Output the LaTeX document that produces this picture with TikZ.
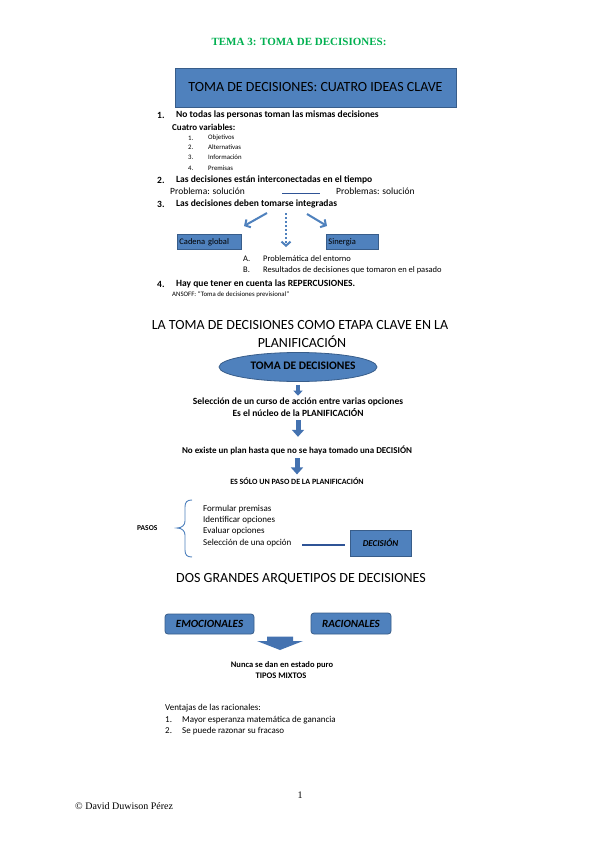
\documentclass[tikz,border=0pt]{standalone}
\usepackage{fontspec}
\setmainfont{Carlito}
\newfontfamily\timesf{Liberation Serif}
\usetikzlibrary{shapes.geometric,arrows.meta}
\definecolor{boxblue}{RGB}{79,129,189}
\definecolor{boxedge}{RGB}{56,93,138}
\definecolor{titlegreen}{RGB}{0,176,80}
\definecolor{arrowblue}{RGB}{68,114,176}
\definecolor{lineblue}{RGB}{47,84,150}
\begin{document}
\begin{tikzpicture}[x=1pt,y=-1pt,
  every node/.style={inner sep=0pt},
  bi/.style={anchor=west, font=\fontsize{9.5}{11}\selectfont\bfseries},
  reg/.style={anchor=west, font=\fontsize{9}{11}\selectfont},
  tinyt/.style={anchor=west, font=\fontsize{6.8}{8}\selectfont},
  head/.style={font=\fontsize{14}{16}\selectfont},
  cb/.style={font=\fontsize{9.5}{11}\selectfont\bfseries},
  bluebox/.style={draw=boxedge, fill=boxblue, line width=0.8pt},
  thinarr/.style={draw=boxblue, line width=2pt, -{Straight Barb[length=4pt,width=9pt]}},
  blkS/.style={draw=arrowblue, line width=3.5pt, -{Triangle[length=5pt,width=9pt]}},
  blkL/.style={draw=arrowblue, line width=5pt, -{Triangle[length=7pt,width=12pt]}},
  conn/.style={draw=lineblue, line width=1.3pt}
]
\fill[white] (0,0) rectangle (599,848);
\useasboundingbox (0,0) rectangle (599,848);

% ---- Title
\node[font=\timesf\fontsize{11}{13}\selectfont\bfseries, text=titlegreen] (title) at (299,42) {TEMA 3: TOMA DE DECISIONES:};
\node[bluebox, minimum width=281pt, minimum height=39pt, font=\fontsize{14}{16}\selectfont] (clave) at (315.5,87.5) {TOMA DE DECISIONES: CUATRO IDEAS CLAVE};

% ---- Four ideas
\node[bi] (n1) at (157,115) {1.};
\node[bi] (t1) at (176,115) {No todas las personas toman las mismas decisiones};
\node[bi, font=\fontsize{9}{11}\selectfont\bfseries] (cv) at (172,127) {Cuatro variables:};
\node[tinyt] (s1n) at (188,138) {1.};
\node[tinyt] (s1) at (208,138) {Objetivos};
\node[tinyt] (s2n) at (188,147) {2.};
\node[tinyt] (s2) at (208,147) {Alternativas};
\node[tinyt] (s3n) at (188,157) {3.};
\node[tinyt] (s3) at (208,157) {Información};
\node[tinyt] (s4n) at (188,168) {4.};
\node[tinyt] (s4) at (208,168) {Premisas};

\node[bi] (n2) at (157,180) {2.};
\node[bi] (t2) at (176,180) {Las decisiones están interconectadas en el tiempo};
\node[reg, font=\fontsize{9.5}{11}\selectfont] (p1) at (170,191) {Problema: solución};
\node[reg, font=\fontsize{9.5}{11}\selectfont] (p2) at (336,191) {Problemas: solución};
\coordinate (l1a) at (282,193.5);
\coordinate (l1b) at (320,193.5);
\draw[conn, line width=1.6pt] (l1a) -- (l1b);

\node[bi] (n3) at (157,204) {3.};
\node[bi] (t3) at (176,204) {Las decisiones deben tomarse integradas};
\coordinate (a3l0) at (267,213);
\coordinate (a3l1) at (244,226);
\coordinate (a3m0) at (286,213);
\coordinate (a3m1) at (286,247);
\coordinate (a3r0) at (307,214);
\coordinate (a3r1) at (327,226);
\draw[thinarr] (a3l0) -- (a3l1);
\draw[thinarr, dash pattern=on 2pt off 2pt] (a3m0) -- (a3m1);
\draw[thinarr] (a3r0) -- (a3r1);

\node[bluebox, anchor=north west, minimum height=15pt, text width=60pt, inner sep=2pt, align=left, font=\fontsize{8.5}{9}\selectfont] (cadena) at (177,234) {Cadena global};
\node[bluebox, anchor=north west, minimum height=15pt, text width=48pt, inner sep=2pt, align=left, font=\fontsize{8.5}{9}\selectfont] (sinergia) at (326,234) {Sinergia};

\node[reg, font=\fontsize{8.5}{10}\selectfont] (la) at (243,259) {A.};
\node[reg, font=\fontsize{8.5}{10}\selectfont] (ta) at (263,259) {Problemática del entorno};
\node[reg, font=\fontsize{8.5}{10}\selectfont] (lb) at (243,270) {B.};
\node[reg, font=\fontsize{8.5}{10}\selectfont] (tb) at (263,270) {Resultados de decisiones que tomaron en el pasado};

\node[bi] (n4) at (157,284) {4.};
\node[bi] (t4) at (176,284) {Hay que tener en cuenta las REPERCUSIONES.};
\node[tinyt] (ans) at (172,295) {ANSOFF: “Toma de decisiones previsional”};

% ---- Section 2
\node[head] (h2a) at (300,325) {LA TOMA DE DECISIONES COMO ETAPA CLAVE EN LA};
\node[head] (h2b) at (302,342) {PLANIFICACIÓN};
\node[ellipse, bluebox, minimum width=158pt, minimum height=29pt] (ell) at (298,367) {};
\node[cb, font=\fontsize{11.5}{13}\selectfont\bfseries] (ellt) at (303,366) {TOMA DE DECISIONES};

\node[cb] (sel1) at (298,402) {Selección de un curso de acción entre varias opciones};
\node[cb] (sel2) at (298,413) {Es el núcleo de la PLANIFICACIÓN};
\node[cb, font=\fontsize{9}{11}\selectfont\bfseries] (noex) at (297,450) {No existe un plan hasta que no se haya tomado una DECISIÓN};
\node[cb, font=\fontsize{8}{10}\selectfont\bfseries] (solo) at (297,481) {ES SÓLO UN PASO DE LA PLANIFICACIÓN};

\draw[blkS, shorten <=3pt, shorten >=2pt] (ell.south -| sel1.north) -- (sel1.north);
\draw[blkL, shorten <=3pt, shorten >=8.5pt] (sel2.south) -- (sel2.south |- noex.north);
\draw[blkL, shorten <=3.5pt, shorten >=3pt] (noex.south) -- (noex.south |- solo.north);

% ---- Pasos
\node[bi, font=\fontsize{7.5}{9}\selectfont\bfseries] (pasos) at (137,528) {PASOS};
\draw[draw=boxblue, line width=0.9pt] (192,500) .. controls (187,500) and (185,502) .. (185,507) -- (185,521) .. controls (185,525) and (182,528) .. (177,528) .. controls (182,528) and (185,531) .. (185,535) -- (185,550) .. controls (185,555) and (187,557) .. (192,557);
\node[reg] (f1) at (203,509) {Formular premisas};
\node[reg] (f2) at (203,520) {Identificar opciones};
\node[reg] (f3) at (203,531) {Evaluar opciones};
\node[reg] (f4) at (203,543) {Selección de una opción};
\node[bluebox, minimum width=61pt, minimum height=26pt, font=\fontsize{9}{11}\selectfont\bfseries\itshape] (dec) at (380.5,543) {DECISIÓN};
\coordinate (d0) at (302,545);
\draw[conn] (d0) -- ([xshift=-5pt]d0 -| dec.west);

% ---- Section 3
\node[head] (h3) at (301,579) {DOS GRANDES ARQUETIPOS DE DECISIONES};
\node[bluebox, rounded corners=3pt, minimum width=89pt, minimum height=20pt, font=\fontsize{11}{13}\selectfont\bfseries\itshape] (emo) at (209.5,624) {EMOCIONALES};
\node[bluebox, rounded corners=3pt, minimum width=80pt, minimum height=21pt, font=\fontsize{11}{13}\selectfont\bfseries\itshape] (rac) at (351,623.5) {RACIONALES};
\fill[arrowblue] (267,636.5) -- (293,636.5) -- (293,641) -- (303,641) -- (280,650) -- (257,641) -- (267,641) -- cycle;
\node[cb, font=\fontsize{8.5}{10}\selectfont\bfseries] (nunca) at (282,665) {Nunca se dan en estado puro};
\node[cb, font=\fontsize{8.5}{10}\selectfont\bfseries] (mixtos) at (281,676) {TIPOS MIXTOS};

\node[reg] (v0) at (165,708) {Ventajas de las racionales:};
\node[reg] (v1n) at (165,720) {1.};
\node[reg] (v1) at (182,720) {Mayor esperanza matemática de ganancia};
\node[reg] (v2n) at (165,731) {2.};
\node[reg] (v2) at (182,731) {Se puede razonar su fracaso};

% ---- Footer
\node[font=\timesf\fontsize{10}{12}\selectfont] (pg) at (300,795) {1};
\node[font=\timesf\fontsize{10}{12}\selectfont, anchor=west] (copy) at (75,806) {© David Duwison Pérez};
\end{tikzpicture}
\end{document}
